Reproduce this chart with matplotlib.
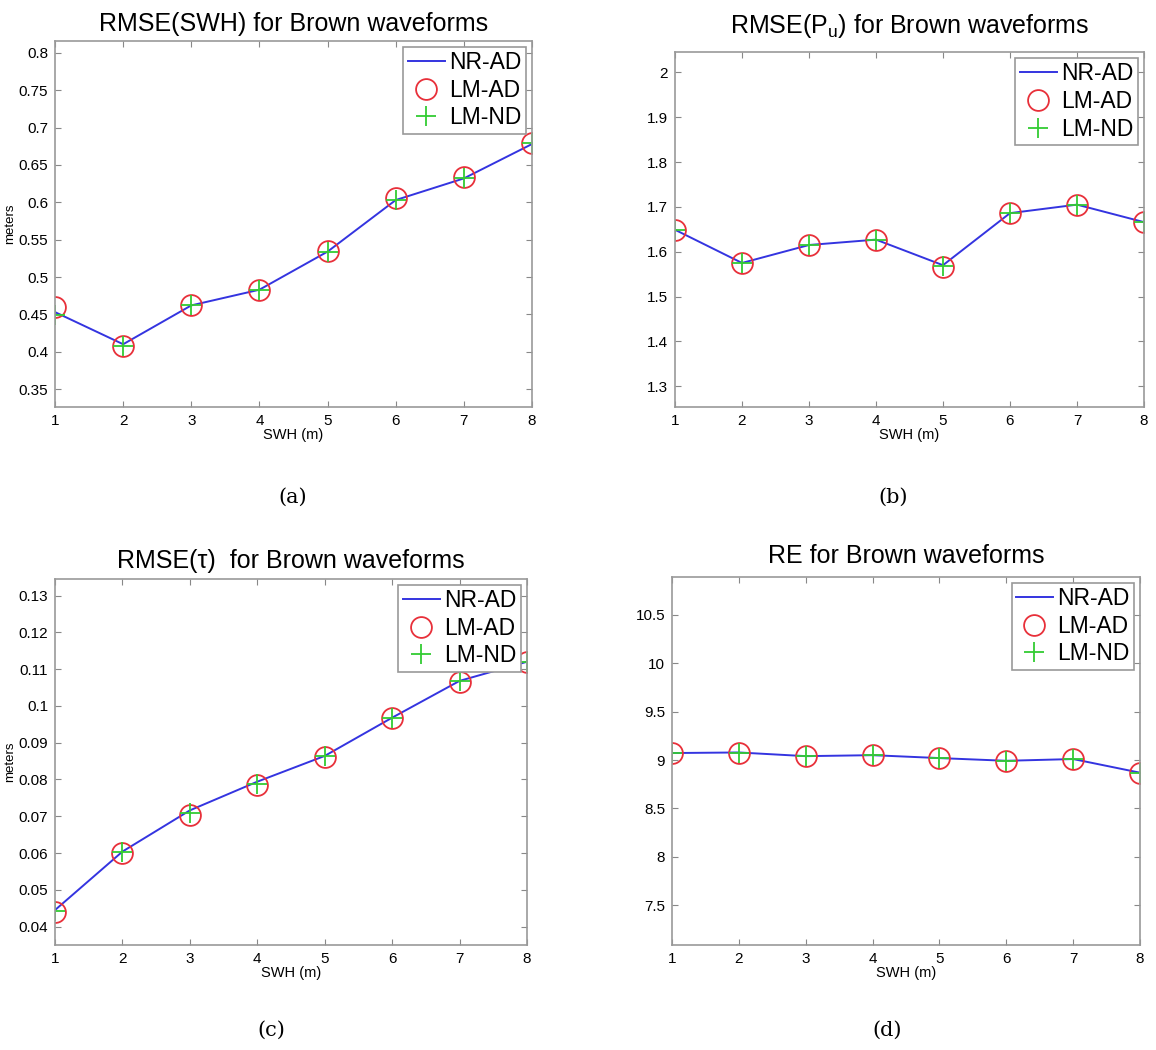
import matplotlib
matplotlib.use("Agg")
import matplotlib.pyplot as plt

# SWH values on the x axis
swh = [1, 2, 3, 4, 5, 6, 7, 8]

# (a) RMSE(SWH)
swh_nr_ad = [0.453, 0.410, 0.462, 0.483, 0.534, 0.603, 0.632, 0.678]
swh_lm_ad = [0.460, 0.407, 0.462, 0.483, 0.535, 0.606, 0.634, 0.680]
swh_lm_nd = [0.449, 0.407, 0.462, 0.483, 0.534, 0.603, 0.632, 0.679]

# (b) RMSE(Pu)
pu_nr_ad = [1.649, 1.575, 1.615, 1.627, 1.570, 1.686, 1.705, 1.666]
pu_lm_ad = [1.649, 1.574, 1.614, 1.627, 1.567, 1.686, 1.705, 1.666]
pu_lm_nd = [1.649, 1.575, 1.615, 1.627, 1.569, 1.686, 1.705, 1.666]

# (c) RMSE(tau)
tau_nr_ad = [0.0445, 0.0604, 0.0716, 0.0794, 0.0864, 0.0968, 0.1068, 0.1120]
tau_lm_ad = [0.0441, 0.0601, 0.0703, 0.0785, 0.0862, 0.0966, 0.1066, 0.1120]
tau_lm_nd = [0.0443, 0.0603, 0.0710, 0.0788, 0.0863, 0.0967, 0.1067, 0.1120]

# (d) RE
re_nr_ad = [9.072, 9.078, 9.040, 9.050, 9.020, 8.992, 9.010, 8.869]
re_lm_ad = [9.072, 9.076, 9.038, 9.048, 9.017, 8.990, 9.007, 8.869]
re_lm_nd = [9.072, 9.077, 9.039, 9.049, 9.018, 8.991, 9.008, 8.869]

plt.rcParams['font.family'] = ['Liberation Sans', 'DejaVu Sans']

fig = plt.figure(figsize=(11.56, 10.5), dpi=100)

panels = [
    # rect, title, title pad, data, ylim, yticks, ylabel, caption, caption pos
    ([0.0476, 0.6124, 0.4126, 0.3486], "RMSE(SWH) for Brown waveforms", 7,
     (swh_nr_ad, swh_lm_ad, swh_lm_nd), (0.326, 0.816),
     [0.35, 0.4, 0.45, 0.5, 0.55, 0.6, 0.65, 0.7, 0.75, 0.8], "meters",
     "(a)", (0.253, 0.526)),
    ([0.5839, 0.6124, 0.4057, 0.338], r"RMSE(P$_\mathregular{u}$) for Brown waveforms", 14,
     (pu_nr_ad, pu_lm_ad, pu_lm_nd), (1.254, 2.045),
     [1.3, 1.4, 1.5, 1.6, 1.7, 1.8, 1.9, 2], None,
     "(b)", (0.773, 0.526)),
    ([0.0476, 0.1, 0.4083, 0.3486], "RMSE(\u03c4)  for Brown waveforms", 8,
     (tau_nr_ad, tau_lm_ad, tau_lm_nd), (0.035, 0.1345),
     [0.04, 0.05, 0.06, 0.07, 0.08, 0.09, 0.1, 0.11, 0.12, 0.13], "meters",
     "(c)", (0.235, 0.019)),
    ([0.5813, 0.1, 0.4049, 0.3505], "RE for Brown waveforms", 10,
     (re_nr_ad, re_lm_ad, re_lm_nd), (7.09, 10.89),
     [7.5, 8, 8.5, 9, 9.5, 10, 10.5], None,
     "(d)", (0.767, 0.019)),
]

for rect, ttl, tpad, (nr, lma, lmn), ylim, yticks, ylab, cap, cap_pos in panels:
    ax = fig.add_axes(rect)
    ax.plot(swh, nr, color='#3434e0', lw=1.4, label='NR-AD')
    ax.plot(swh, lma, ls='none', marker='o', ms=15, mfc='none',
            mec='#e8303a', mew=1.3, label='LM-AD')
    ax.plot(swh, lmn, ls='none', marker='+', ms=15, mec='#33cc33',
            mew=1.3, label='LM-ND')
    ax.set_xlim(1, 8)
    ax.set_ylim(*ylim)
    ax.set_xticks(swh)
    ax.set_yticks(yticks)
    ax.set_yticklabels([f"{v:g}" for v in yticks])
    ax.tick_params(direction='in', top=True, right=True, labelsize=11,
                   color='#888888', length=4, pad=5)
    for s in ax.spines.values():
        s.set_color('#999999')
        s.set_linewidth(1.2)
    ax.set_xlabel("SWH (m)", fontsize=10.5, labelpad=0)
    if ylab:
        ax.set_ylabel(ylab, fontsize=9.5, labelpad=2)
    ax.set_title(ttl, fontsize=18, pad=tpad)
    leg = ax.legend(loc='upper right', fontsize=16.5, fancybox=False,
                    borderaxespad=0.25, handlelength=1.6, handletextpad=0.2,
                    labelspacing=0.2, borderpad=0.2, framealpha=1)
    leg.get_frame().set_edgecolor('#999999')
    leg.get_frame().set_linewidth(1.2)
    fig.text(cap_pos[0], cap_pos[1], cap, ha='center', va='center',
             fontsize=15, family='DejaVu Serif')

plt.savefig("out.png", dpi=100)
